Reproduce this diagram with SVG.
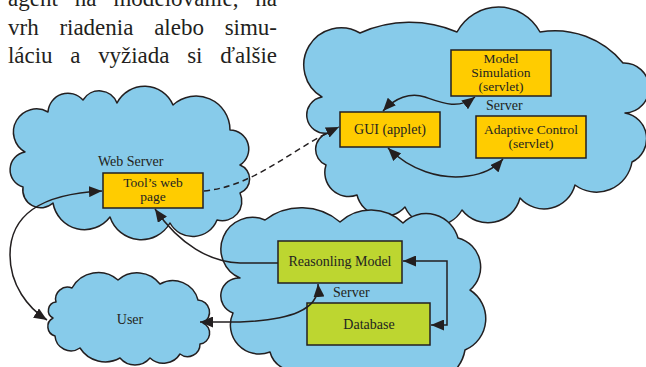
<svg xmlns="http://www.w3.org/2000/svg" width="646" height="367" viewBox="0 0 646 367">
<defs>
<style>
.cloud{fill:#87CBEA;stroke:#231F20;stroke-width:1.5;stroke-linejoin:round}
.ybox{fill:#FFCC00;stroke:#231F20;stroke-width:1.5}
.gbox{fill:#BDD630;stroke:#231F20;stroke-width:1.5}
.t{font-family:"Liberation Serif","Times New Roman",serif;font-size:14px;fill:#231F20;text-anchor:middle}
.t2{font-family:"Liberation Serif","Times New Roman",serif;font-size:13.5px;fill:#231F20;text-anchor:middle}
.lbl{font-family:"Liberation Serif","Times New Roman",serif;font-size:14px;fill:#231F20}
.body{font-family:"Liberation Serif","Times New Roman",serif;font-size:23px;fill:#231F20}
.c{fill:none;stroke:#231F20;stroke-width:1.5}
.dash{stroke-dasharray:6 4}
</style>
<marker id="ah" markerUnits="userSpaceOnUse" markerWidth="14" markerHeight="11" refX="13" refY="5.5" orient="auto-start-reverse" viewBox="0 0 14 11">
<path d="M0,0 L13,5.5 L0,11 Z" fill="#231F20"/>
</marker>
</defs>

<g id="body-text">
<text class="body" x="8" y="6" word-spacing="11" textLength="269" lengthAdjust="spacing">agent na modelovanie, na</text>
<text class="body" x="8" y="34.5" word-spacing="15" textLength="269" lengthAdjust="spacing">vrh riadenia alebo simu-</text>
<text class="body" x="8" y="63" word-spacing="12" textLength="269" lengthAdjust="spacing">láciu a vyžiada si ďalšie</text>
</g>

<g id="cloud-server-top">
<path class="cloud" d="M328,133 A18,18 0 0 1 322,97 A37,37 0 0 1 360,33 A120,120 0 0 1 457,32 A47,47 0 0 1 540,32 A88,88 0 0 1 623,63 A25,25 0 0 1 625,113 A26,26 0 0 1 632,162 A36,36 0 0 1 575,185 A32,32 0 0 1 520,198 A33,33 0 0 1 462,210 A32,32 0 0 1 405,207 A28,28 0 0 1 357,195 A24,24 0 0 1 326,165 A17,17 0 0 1 328,133 Z"/>
</g>

<g id="cloud-web">
<path class="cloud" d="M25,152 A23,23 0 0 1 48,112 A20,20 0 0 1 83,100 A19,19 0 0 1 117,103 A31,31 0 0 1 173,105 A34,34 0 0 1 230,130 A19,19 0 0 1 240,165 A15,15 0 0 1 240,193 A19.5,19.5 0 0 1 217,220 A26,26 0 0 1 170,223 A33,33 0 0 1 110,217 A32,32 0 0 1 53,203 A18,18 0 0 1 23,187 A18,18 0 0 1 25,152 Z"/>
</g>

<g id="cloud-server-bottom">
<path class="cloud" d="M265,220 A60,60 0 0 1 340,222 A46,46 0 0 1 403,223 A33,33 0 0 1 458,238 A30,30 0 0 1 470,290 A34,34 0 0 1 465,350 A40,40 0 0 1 400,374 A60,60 0 0 1 300,370 A25,25 0 0 1 270,352 A29,29 0 0 1 233,313 A18,18 0 0 1 240,278 A31.5,31.5 0 0 1 265,220 Z"/>
</g>

<g id="cloud-user">
<path class="cloud" d="M72,288 A30,30 0 0 1 118,280 A29,29 0 0 1 160,284 A26,26 0 0 1 198,300 A12.2,12.2 0 0 1 203,323 A11,11 0 0 1 200,344 A12.4,12.4 0 0 1 180,354 A19.6,19.6 0 0 1 150,358 A19.6,19.6 0 0 1 120,358 A30,30 0 0 1 80,348 A16,16 0 0 1 55,336 A9.75,9.75 0 0 1 53,318 A8.5,8.5 0 0 1 56,302 A11.9,11.9 0 0 1 72,288 Z"/>
<text class="t" x="130" y="324">User</text>
</g>

<g id="label-web-server"><text class="lbl" x="98" y="166">Web Server</text></g>
<g id="label-server-top"><text class="lbl" x="486" y="110">Server</text></g>
<g id="label-server-bottom"><text class="lbl" x="333" y="297">Server</text></g>

<g id="node-model-simulation">
<rect class="ybox" x="451" y="50" width="100" height="46"/>
<text class="t2" x="501" y="63">Model</text>
<text class="t2" x="501" y="77">Simulation</text>
<text class="t2" x="501" y="91">(servlet)</text>
</g>

<g id="node-gui">
<rect class="ybox" x="340" y="112" width="100" height="35"/>
<text class="t" x="390" y="134">GUI (applet)</text>
</g>

<g id="node-adaptive-control">
<rect class="ybox" x="476" y="116" width="110" height="42"/>
<text class="t2" x="531" y="134">Adaptive Control</text>
<text class="t2" x="531" y="148">(servlet)</text>
</g>

<g id="node-tools-web-page">
<rect class="ybox" x="103" y="173" width="100" height="35"/>
<text class="t2" x="153" y="187">Tool’s web</text>
<text class="t2" x="153" y="201">page</text>
</g>

<g id="node-reasoning-model">
<rect class="gbox" x="278" y="241" width="124" height="42"/>
<text class="t" x="340" y="266">Reasonling Model</text>
</g>

<g id="node-database">
<rect class="gbox" x="307" y="303" width="123" height="42"/>
<text class="t" x="369" y="329">Database</text>
</g>

<g id="connectors">
<path class="c dash" d="M204,191 C255,186 290,150 339,127" marker-end="url(#ah)"/>
<path class="c" d="M383,111 C395,98 410,92 425,97 C442,103 458,110 475,97" marker-start="url(#ah)" marker-end="url(#ah)"/>
<path class="c" d="M388,148 C410,170 440,180 468,176 C484,174 495,168 503,159" marker-start="url(#ah)" marker-end="url(#ah)"/>
<path class="c" d="M102,191 C40,194 10,215 10,255 C10,285 28,308 47,320" marker-start="url(#ah)" marker-end="url(#ah)"/>
<path class="c" d="M278,263 L240,263 C210,262 180,245 155,209" marker-end="url(#ah)"/>
<path class="c" d="M200,322 L240,322 C290,320 320,310 318,284" marker-start="url(#ah)" marker-end="url(#ah)"/>
<path class="c" d="M403,261 H447 V325 H431" marker-start="url(#ah)" marker-end="url(#ah)"/>
</g>
</svg>
